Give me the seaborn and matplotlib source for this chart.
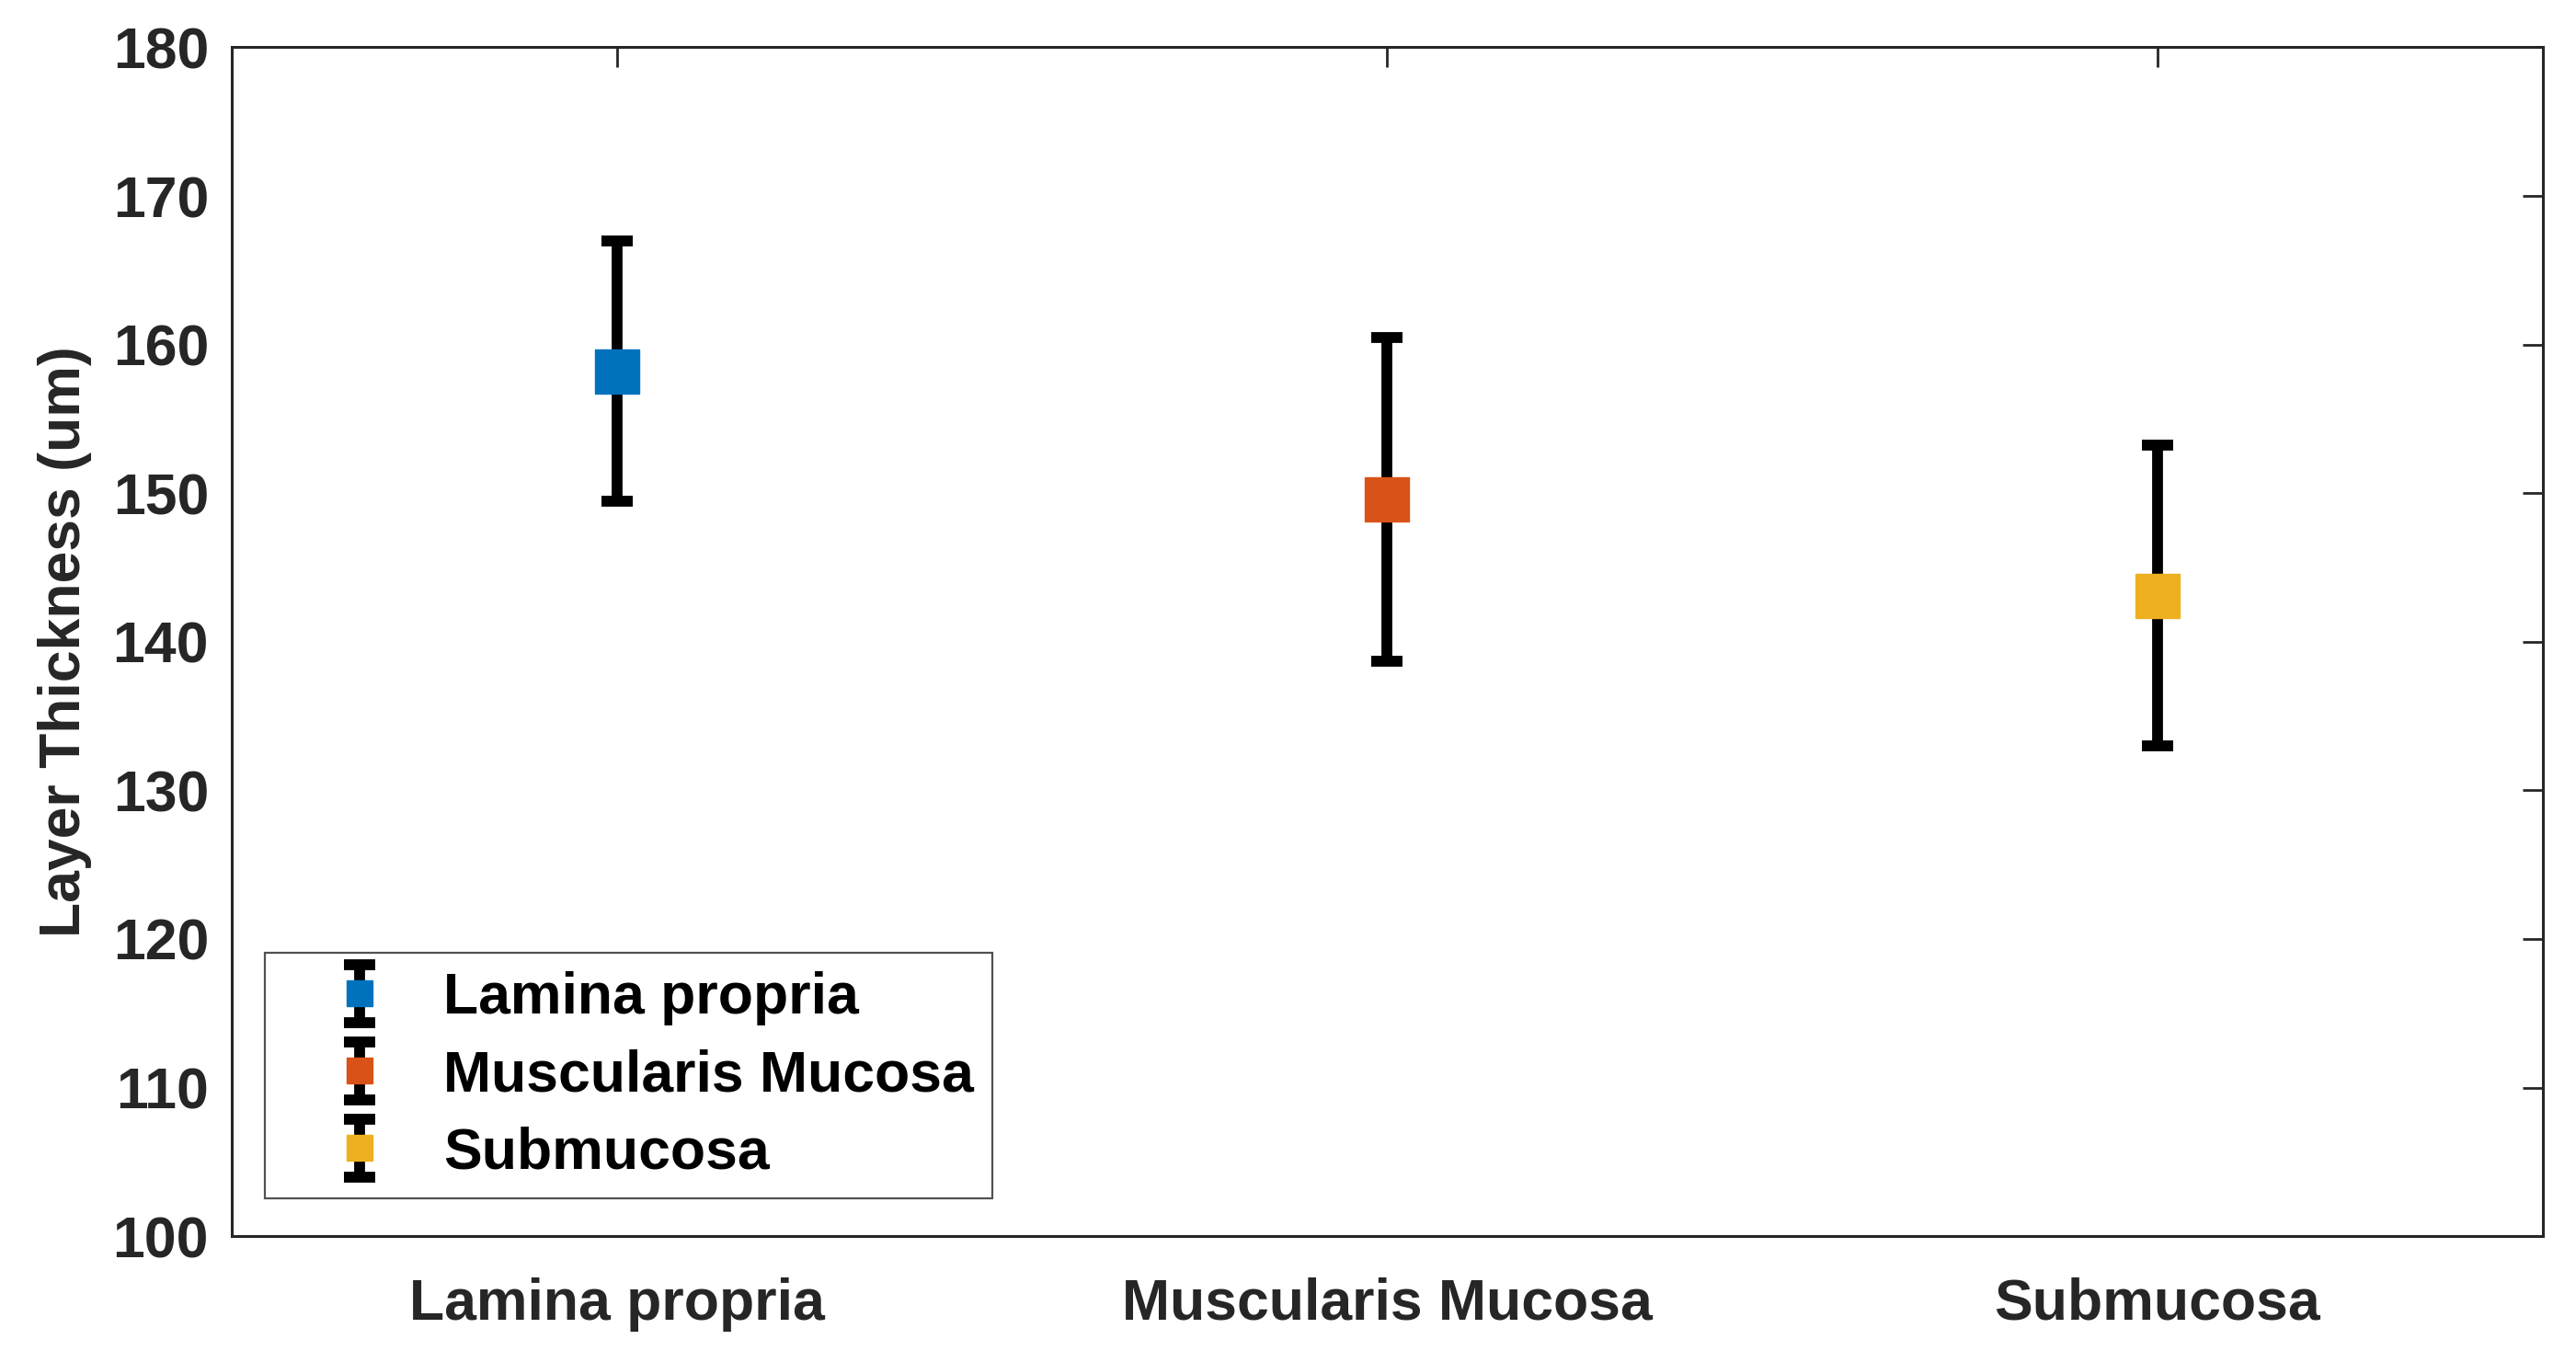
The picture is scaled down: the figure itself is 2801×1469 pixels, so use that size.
import matplotlib
matplotlib.use("Agg")
import matplotlib.pyplot as plt
import seaborn as sns
import pandas as pd

categories = ["Lamina propria", "Muscularis Mucosa", "Submucosa"]
means = [158.2, 149.6, 143.1]
errors = [8.75, 10.9, 10.1]
colors = ["#0072BD", "#D95319", "#EDB120"]
yticks = [100, 110, 120, 130, 140, 150, 160, 170, 180]

df = pd.DataFrame({"layer": categories, "mean": means, "err": errors, "pos": [1, 2, 3]})

sns.set_style("white")
plt.rcParams["font.family"] = ["Liberation Sans", "DejaVu Sans"]
plt.rcParams["font.weight"] = "bold"

fig = plt.figure(figsize=(28.01, 14.69), dpi=100)
ax = fig.add_axes([0.09, 0.085, 0.897, 0.88])

for _, row in df.iterrows():
    ax.errorbar(row["pos"], row["mean"], yerr=row["err"], fmt="s",
                color="black", ecolor="black", elinewidth=8.5, capsize=12,
                capthick=8.5, markersize=34, markerfacecolor=colors[_],
                markeredgecolor=colors[_], label=row["layer"], zorder=3)

sns.scatterplot(data=df, x="pos", y="mean", hue="layer", palette=colors,
                marker="s", s=1150, linewidth=0, legend=False, ax=ax, zorder=4)

ax.set_xlim(0.5, 3.5)
ax.set_ylim(100, 180)
ax.set_xticks([1, 2, 3])
ax.set_xticklabels(categories)
ax.set_yticks(yticks)
ax.set_xlabel("")
ax.set_ylabel("Layer Thickness (um)", fontsize=45, fontweight="bold", color="#262626", labelpad=16)
ax.tick_params(axis="both", which="major", direction="in", length=16, width=2,
               labelsize=45, colors="#262626", top=True, right=True, pad=18)
ax.tick_params(axis="x", pad=32)
for lab in ax.get_xticklabels() + ax.get_yticklabels():
    lab.set_fontweight("bold")
for sp in ax.spines.values():
    sp.set_visible(True)
    sp.set_linewidth(2.2)
    sp.set_color("#262626")

leg = ax.legend(loc="lower left", bbox_to_anchor=(0.0143, 0.0317), borderaxespad=0,
                fontsize=45, frameon=True, fancybox=False, edgecolor="#262626",
                handlelength=2.66, handletextpad=0.12, labelspacing=0.4, borderpad=0.32,
                markerscale=0.6)
leg.get_frame().set_linewidth(1.6)
for t in leg.get_texts():
    t.set_fontweight("bold")
    t.set_color("black")

fig.savefig("out.png", dpi=100)
